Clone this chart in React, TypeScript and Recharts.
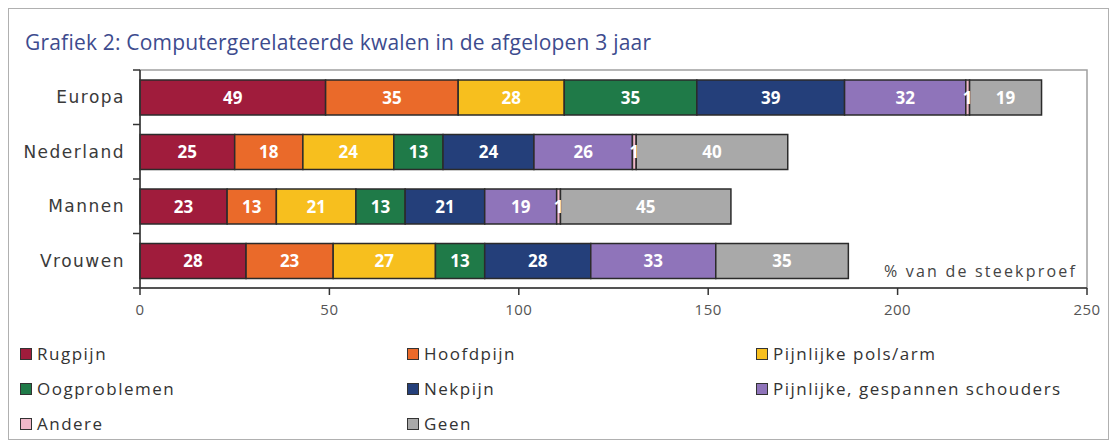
import { BarChart, Bar, XAxis, YAxis, LabelList, ReferenceArea } from 'recharts';

const categories = ['Europa', 'Nederland', 'Mannen', 'Vrouwen'];

const rugpijn = [49, 25, 23, 28];
const hoofdpijn = [35, 18, 13, 23];
const polsArm = [28, 24, 21, 27];
const oogproblemen = [35, 13, 13, 13];
const nekpijn = [39, 24, 21, 28];
const schouders = [32, 26, 19, 33];
const andere = [1, 1, 1, 0];
const geen = [19, 40, 45, 35];

const xTicks = [0, 50, 100, 150, 200, 250];

const SERIES = [
  { key: 'rugpijn', name: 'Rugpijn', color: '#a01c3c', values: rugpijn },
  { key: 'hoofdpijn', name: 'Hoofdpijn', color: '#ea6a2a', values: hoofdpijn },
  { key: 'polsArm', name: 'Pijnlijke pols/arm', color: '#f7bf1e', values: polsArm },
  { key: 'oogproblemen', name: 'Oogproblemen', color: '#1f7a48', values: oogproblemen },
  { key: 'nekpijn', name: 'Nekpijn', color: '#243f7a', values: nekpijn },
  { key: 'schouders', name: 'Pijnlijke, gespannen schouders', color: '#8f74ba', values: schouders },
  { key: 'andere', name: 'Andere', color: '#f0b8ca', values: andere },
  { key: 'geen', name: 'Geen', color: '#a9a9a9', values: geen },
];

const data = categories.map((name, i) => {
  const row: Record<string, string | number> = { name };
  for (const s of SERIES) row[s.key] = s.values[i];
  return row;
});

const BAND = (279 - 61) / categories.length;

// category label plus a tick mark on the band boundaries
function CategoryTick(props: any) {
  const { x, y, payload, index } = props;
  const last = index === categories.length - 1;
  return (
    <g>
      <text
        x={x - 7}
        y={y}
        dy="0.35em"
        textAnchor="end"
        fill="#3a3a3a"
        fontSize={17}
        letterSpacing={1.5}
        fontFamily="'DejaVu Sans', sans-serif"
      >
        {payload.value}
      </text>
      <line x1={x + 1} x2={x + 8} y1={y - BAND / 2} y2={y - BAND / 2} stroke="#333" strokeWidth={1.5} />
      {last && (
        <line x1={x + 1} x2={x + 8} y1={y + BAND / 2} y2={y + BAND / 2} stroke="#333" strokeWidth={1.5} />
      )}
    </g>
  );
}

export default function App() {
  return (
    <div
      style={{
        position: 'relative',
        width: 1099,
        height: 430,
        border: '1px solid #b0b0b0',
        background: '#fff',
        fontFamily: "'Open Sans', sans-serif",
      }}
    >
      <div
        style={{
          position: 'absolute',
          left: 16,
          top: 19,
          fontSize: 21,
          letterSpacing: 0.2,
          color: '#3d4b8e',
          whiteSpace: 'nowrap',
        }}
      >
        Grafiek 2: Computergerelateerde kwalen in de afgelopen 3 jaar
      </div>

      <BarChart
        width={1099}
        height={430}
        data={data}
        layout="vertical"
        margin={{ top: 61, right: 21, left: 0, bottom: 121 }}
        barSize={35}
        style={{ position: 'absolute', left: 0, top: 0 }}
      >
        <ReferenceArea x1={0} x2={250} fill="none" stroke="#a0a0a0" strokeWidth={1.5} />
        <XAxis
          type="number"
          domain={[0, 250]}
          ticks={xTicks}
          height={30}
          axisLine={{ stroke: '#333', strokeWidth: 1.5 }}
          tickLine={{ stroke: '#333', strokeWidth: 1.5 }}
          tickSize={7}
          tickMargin={9}
          tick={{ fill: '#555', fontSize: 15, letterSpacing: 0.5 }}
        />
        <YAxis
          type="category"
          dataKey="name"
          width={131}
          axisLine={{ stroke: '#333', strokeWidth: 1.5 }}
          tickLine={false}
          tick={<CategoryTick />}
        />
        {SERIES.map((s) => (
          <Bar
            key={s.key}
            dataKey={s.key}
            name={s.name}
            stackId="a"
            fill={s.color}
            stroke="#2b2b2b"
            strokeWidth={1.5}
            isAnimationActive={false}
          >
            <LabelList
              dataKey={s.key}
              position="center"
              fill="#fff"
              fontSize={17}
              fontWeight="bold"
              formatter={(v: any) => (v ? v : '')}
            />
          </Bar>
        ))}
      </BarChart>

      <div
        style={{
          position: 'absolute',
          left: 875,
          top: 251,
          fontSize: 16,
          letterSpacing: 2.2,
          color: '#444',
          whiteSpace: 'nowrap',
        }}
      >
        % van de steekproef
      </div>

      {SERIES.map((s, i) => {
        const col = i % 3;
        const row = Math.floor(i / 3);
        const left = [11, 398, 747][col];
        const top = 333 + row * 35;
        return (
          <div
            key={s.key}
            style={{
              position: 'absolute',
              left,
              top,
              display: 'flex',
              alignItems: 'center',
              fontSize: 17,
              letterSpacing: 1.5,
              color: '#333',
              whiteSpace: 'nowrap',
            }}
          >
            <span
              style={{
                display: 'inline-block',
                width: 10,
                height: 10,
                background: s.color,
                border: '1px solid #333',
                marginRight: 5,
              }}
            />
            {s.name}
          </div>
        );
      })}
    </div>
  );
}
